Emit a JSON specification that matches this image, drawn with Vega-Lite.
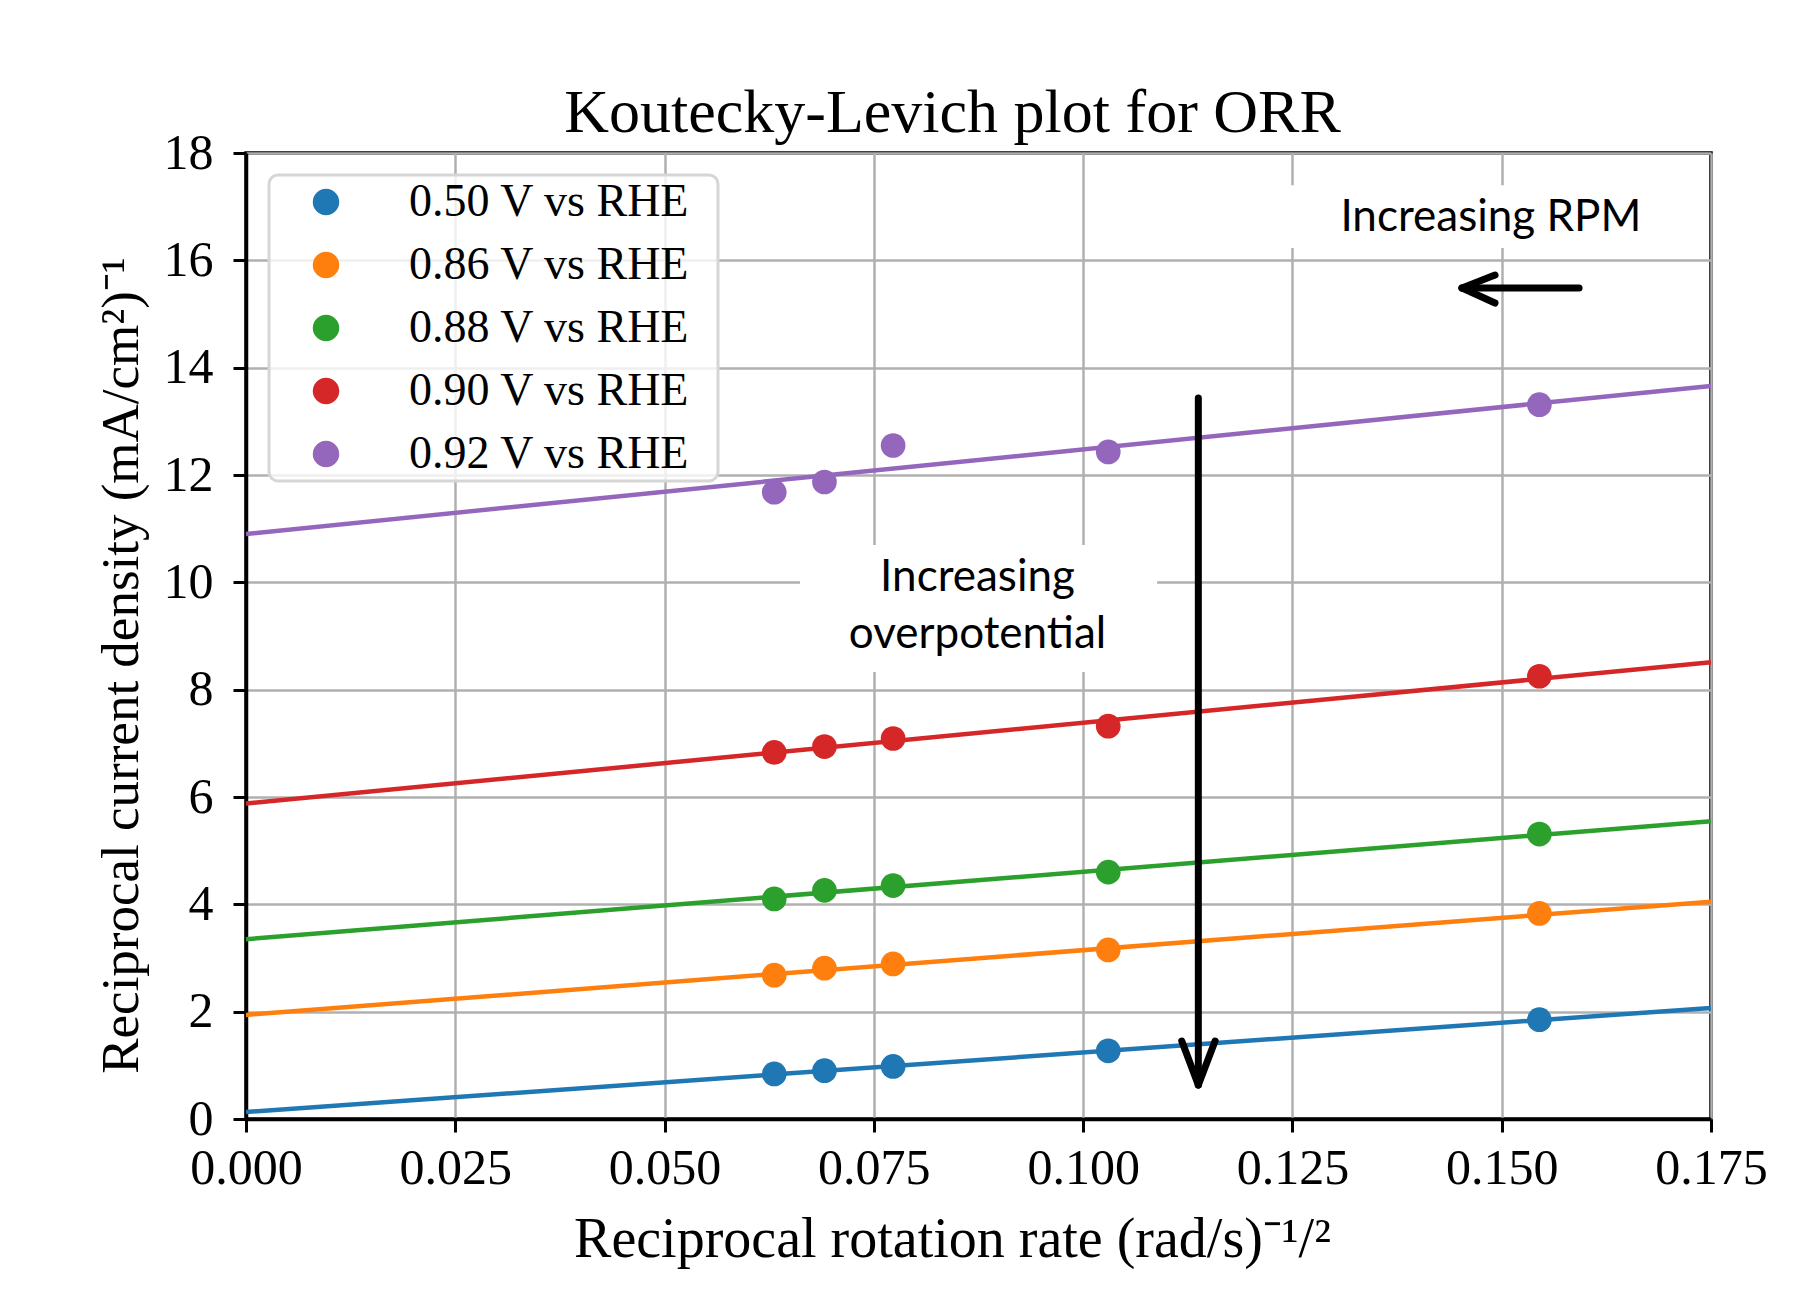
{
  "$schema": "https://vega.github.io/schema/vega-lite/v6.json",
  "width": 1465,
  "height": 966,
  "autosize": {"type": "none"},
  "padding": {"left": 246, "top": 153, "right": 85, "bottom": 184},
  "background": "white",
  "title": {
    "text": "Koutecky-Levich plot for ORR",
    "font": "Liberation Serif",
    "fontSize": 62,
    "fontWeight": "normal",
    "color": "black",
    "anchor": "middle",
    "frame": "group",
    "offset": -17,
    "dx": -26
  },
  "datasets": {
    "points": [
      {"series": "0.50 V vs RHE", "x": 0.0631, "y": 0.84},
      {"series": "0.50 V vs RHE", "x": 0.0691, "y": 0.90},
      {"series": "0.50 V vs RHE", "x": 0.0773, "y": 0.98},
      {"series": "0.50 V vs RHE", "x": 0.1030, "y": 1.27},
      {"series": "0.50 V vs RHE", "x": 0.1545, "y": 1.85},
      {"series": "0.86 V vs RHE", "x": 0.0631, "y": 2.68},
      {"series": "0.86 V vs RHE", "x": 0.0691, "y": 2.81},
      {"series": "0.86 V vs RHE", "x": 0.0773, "y": 2.89},
      {"series": "0.86 V vs RHE", "x": 0.1030, "y": 3.15},
      {"series": "0.86 V vs RHE", "x": 0.1545, "y": 3.83},
      {"series": "0.88 V vs RHE", "x": 0.0631, "y": 4.10},
      {"series": "0.88 V vs RHE", "x": 0.0691, "y": 4.26},
      {"series": "0.88 V vs RHE", "x": 0.0773, "y": 4.35},
      {"series": "0.88 V vs RHE", "x": 0.1030, "y": 4.60},
      {"series": "0.88 V vs RHE", "x": 0.1545, "y": 5.31},
      {"series": "0.90 V vs RHE", "x": 0.0631, "y": 6.83},
      {"series": "0.90 V vs RHE", "x": 0.0691, "y": 6.94},
      {"series": "0.90 V vs RHE", "x": 0.0773, "y": 7.09},
      {"series": "0.90 V vs RHE", "x": 0.1030, "y": 7.32},
      {"series": "0.90 V vs RHE", "x": 0.1545, "y": 8.25},
      {"series": "0.92 V vs RHE", "x": 0.0631, "y": 11.68},
      {"series": "0.92 V vs RHE", "x": 0.0691, "y": 11.87},
      {"series": "0.92 V vs RHE", "x": 0.0773, "y": 12.55},
      {"series": "0.92 V vs RHE", "x": 0.1030, "y": 12.43},
      {"series": "0.92 V vs RHE", "x": 0.1545, "y": 13.31}
    ],
    "fits": [
      {"fit": "0.50", "x": 0, "y": 0.13},
      {"fit": "0.50", "x": 0.175, "y": 2.07},
      {"fit": "0.86", "x": 0, "y": 1.94},
      {"fit": "0.86", "x": 0.175, "y": 4.05},
      {"fit": "0.88", "x": 0, "y": 3.35},
      {"fit": "0.88", "x": 0.175, "y": 5.55},
      {"fit": "0.90", "x": 0, "y": 5.88},
      {"fit": "0.90", "x": 0.175, "y": 8.51},
      {"fit": "0.92", "x": 0, "y": 10.90},
      {"fit": "0.92", "x": 0.175, "y": 13.66}
    ],
    "boxes": [
      {"x": 0.06618, "x2": 0.10883, "y": 8.329, "y2": 10.695},
      {"x": 0.1217, "x2": 0.1700, "y": 16.23, "y2": 17.40}
    ],
    "legendframe": [
      {"x": 0.00275, "x2": 0.05638, "y": 11.89, "y2": 17.59}
    ],
    "labels": [
      {"x": 0.1487, "y": 16.55, "text": "Increasing RPM"},
      {"x": 0.08738, "y": 9.838, "text": "Increasing"},
      {"x": 0.08738, "y": 8.776, "text": "overpotential"}
    ],
    "arrows": [
      {"x": 0.14526, "x2": 0.15924, "y": 15.484, "y2": 15.484},
      {"x": 0.14526, "x2": 0.14920, "y": 15.484, "y2": 15.726},
      {"x": 0.14526, "x2": 0.14920, "y": 15.484, "y2": 15.204},
      {"x": 0.11376, "x2": 0.11376, "y": 13.434, "y2": 0.6335},
      {"x": 0.11376, "x2": 0.11178, "y": 0.6335, "y2": 1.453},
      {"x": 0.11376, "x2": 0.11576, "y": 0.6335, "y2": 1.453}
    ]
  },
  "encoding": {
    "x": {
      "field": "x",
      "type": "quantitative",
      "scale": {"domain": [0, 0.175], "nice": false, "zero": false},
      "axis": {
        "title": "Reciprocal rotation rate (rad/s)⁻¹/²",
        "titleFontSize": 56,
        "values": [0, 0.025, 0.05, 0.075, 0.1, 0.125, 0.15, 0.175],
        "format": ".3f",
        "labelPadding": 51,
        "labelBaseline": "alphabetic",
        "titleX": 706,
        "titleY": 137,
        "titleBaseline": "alphabetic",
        "titleAlign": "center"
      }
    },
    "y": {
      "field": "y",
      "type": "quantitative",
      "scale": {"domain": [0, 18], "nice": false, "zero": false},
      "axis": {
        "title": "Reciprocal current density (mA/cm²)⁻¹",
        "titleFontSize": 53,
        "values": [0, 2, 4, 6, 8, 10, 12, 14, 16, 18],
        "format": "d",
        "labelPadding": 20,
        "titleX": -109,
        "titleY": 512,
        "titleAngle": -90,
        "titleBaseline": "alphabetic",
        "titleAlign": "center"
      }
    }
  },
  "layer": [
    {
      "data": {"name": "boxes"},
      "mark": {"type": "rect", "fill": "white", "strokeWidth": 0},
      "encoding": {
        "x2": {"field": "x2"},
        "y2": {"field": "y2"}
      }
    },
    {
      "data": {"name": "fits"},
      "mark": {"type": "line", "strokeWidth": 4.5},
      "encoding": {
        "stroke": {
          "field": "fit",
          "type": "nominal",
          "scale": {
            "domain": ["0.50", "0.86", "0.88", "0.90", "0.92"],
            "range": ["#1f77b4", "#ff7f0e", "#2ca02c", "#d62728", "#9467bd"]
          },
          "legend": null
        }
      }
    },
    {
      "data": {"name": "legendframe"},
      "mark": {"type": "rect", "fill": "white", "fillOpacity": 0.8, "stroke": "#d6d6d6", "strokeWidth": 3, "cornerRadius": 9},
      "encoding": {
        "x2": {"field": "x2"},
        "y2": {"field": "y2"}
      }
    },
    {
      "data": {"name": "points"},
      "mark": {"type": "circle", "size": 610, "opacity": 1},
      "encoding": {
        "color": {
          "field": "series",
          "type": "nominal",
          "scale": {
            "domain": ["0.50 V vs RHE", "0.86 V vs RHE", "0.88 V vs RHE", "0.90 V vs RHE", "0.92 V vs RHE"],
            "range": ["#1f77b4", "#ff7f0e", "#2ca02c", "#d62728", "#9467bd"]
          },
          "legend": {
            "title": null,
            "orient": "none",
            "legendX": 24,
            "legendY": 22,
            "padding": 4,
            "symbolOffset": 29,
            "labelOffset": 60,
            "rowPadding": 17,
            "symbolType": "circle",
            "symbolSize": 700,
            "labelFont": "Liberation Serif",
            "labelFontSize": 46,
            "labelColor": "black",
            "labelLimit": 400
          }
        }
      }
    },
    {
      "data": {"name": "labels"},
      "mark": {"type": "text", "font": "Lato", "fontSize": 44, "color": "black", "align": "center", "baseline": "alphabetic"},
      "encoding": {
        "text": {"field": "text"}
      }
    },
    {
      "data": {"name": "arrows"},
      "mark": {"type": "rule", "color": "black", "strokeWidth": 7, "strokeCap": "round"},
      "encoding": {
        "x2": {"field": "x2"},
        "y2": {"field": "y2"}
      }
    }
  ],
  "config": {
    "view": {"stroke": "black", "strokeWidth": 3.5},
    "axis": {
      "domainColor": "black",
      "domainWidth": 3.5,
      "tickColor": "black",
      "tickWidth": 3,
      "tickSize": 13,
      "gridColor": "#b0b0b0",
      "gridWidth": 2.5,
      "gridOpacity": 1,
      "labelFont": "Liberation Serif",
      "labelFontSize": 50,
      "labelColor": "black",
      "titleFont": "Liberation Serif",
      "titleFontSize": 55,
      "titleFontWeight": "normal",
      "titleColor": "black",
      "labelOverlap": false,
      "labelFlush": false
    }
  }
}
